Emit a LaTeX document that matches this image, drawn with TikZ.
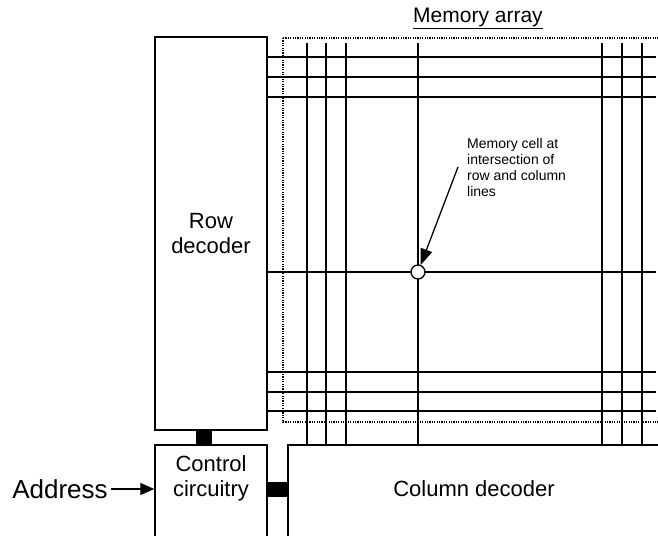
\documentclass[tikz,border=0pt]{standalone}
\usepackage{fontspec}
\setmainfont{Liberation Sans}
\usetikzlibrary{arrows.meta}

\begin{document}
\begin{tikzpicture}[x=1pt,y=-1pt,
  box/.style={draw,line width=1.5pt,fill=white,inner sep=0pt},
  big/.style={font=\fontsize{22}{25}\selectfont,align=center},
  wire/.style={line width=1.5pt},
  bus/.style={line width=#1},
  ]
  \useasboundingbox (0,0) rectangle (658,535);
  \clip (0,0) rectangle (658,535);
  % memory array
  \draw[dash pattern=on 1.2pt off 1.2pt,line width=1.3pt] (283,38) rectangle (700,422);
  \node[font=\fontsize{21}{24}\selectfont] (title) at (478,18) {\underline{Memory array}};
  \foreach \y in {57,77,97,272,372,392,411}
    \draw[wire] (267,\y) -- (656,\y);
  \foreach \x in {307,326,346,418,602,622,642}
    \draw[wire] (\x,43) -- (\x,444);
  % decoders and control
  \node[box,big,minimum width=112,minimum height=393] (rowdec) at (211,233.5) {Row\\decoder};
  \node[box,minimum width=112,minimum height=110,anchor=north] (ctrl) at (211,444) {};
  \node[big] (ctrltxt) at (211,478) {Control\\circuitry};
  \node[box,minimum width=420,minimum height=110,anchor=north west] (coldec) at (287,444) {};
  \node[big] (coltxt) at (474,489) {Column decoder};
  \node[font=\fontsize{26}{30}\selectfont] (addr) at (60,489) {Address};
  \draw[-{Triangle[length=14pt,width=12pt]},line width=1.3pt] (addr.east) -- (ctrl.west |- addr);
  \draw[bus=16pt] ([xshift=-7pt]rowdec.south) -- ([xshift=-7pt]ctrl.north);
  \draw[bus=15pt] (ctrl.east |- addr) -- (coldec.west |- addr);
  % memory cell
  \node[circle,draw,fill=white,line width=1.3pt,minimum size=14,inner sep=0pt] (cell) at (418,272) {};
  \node[anchor=north west,align=left,inner sep=0pt,font=\fontsize{14}{16}\selectfont] (celltxt) at (467,138)
    {Memory cell at\\intersection of\\row and column\\lines};
  \coordinate (tail) at (458,167);
  \draw[-{Triangle[length=16pt,width=12pt]},line width=1.3pt] (tail) -- (cell);
\end{tikzpicture}
\end{document}
